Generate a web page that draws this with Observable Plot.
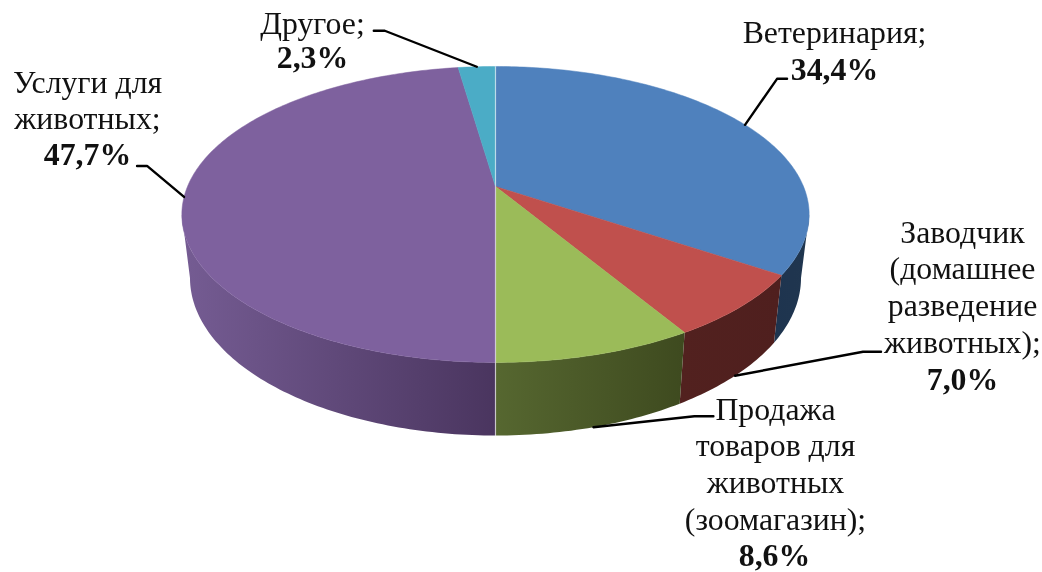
<!DOCTYPE html>
<html lang="ru">
<head>
<meta charset="utf-8">
<script src="https://cdn.jsdelivr.net/npm/d3@7"></script>
<script src="https://cdn.jsdelivr.net/npm/@observablehq/plot@0.6"></script>
<style>html,body{margin:0;padding:0;background:#fff}svg{display:block;filter:blur(0.35px)}</style>
</head>
<body>
<div id="chart"></div>
<script>
// --- Data ---
const categories = ["Ветеринария", "Заводчик", "Продажа", "Услуги", "Другое"];
const shares = [34.4, 7.0, 8.6, 47.7, 2.3];
const nameLines = [
  ["Ветеринария;"],
  ["Заводчик", "(домашнее", "разведение", "животных);"],
  ["Продажа", "товаров для", "животных", "(зоомагазин);"],
  ["Услуги для", "животных;"],
  ["Другое;"]
];
const shareLabels = ["34,4%", "7,0%", "8,6%", "47,7%", "2,3%"];

// --- Styles ---
const topColors = ["#4f81bd", "#c0504d", "#9bbb59", "#7e619e", "#4bacc6"];
// wall shading, left stop then right stop of each slice
const wallLeft  = ["#1e344f", "#52211f", "#566730", "#755c93", "#2a6575"];
const wallRight = ["#20364f", "#4f1f1e", "#3e4a1f", "#4a355f", "#2a6575"];

// --- Projection of the tilted disc (perspective) ---
const cx = 495, k = 0.189;
const topPlane = {a: 308, b: 142.7, y: 186};
const basePlane = {a: 300, b: 152, y: 247.6};
function project(plane, pct) {
  const t = pct / 100 * 2 * Math.PI, d = 1 + k * Math.cos(t);
  return [cx + plane.a * Math.sin(t) / d, plane.y - plane.b * Math.cos(t) / d];
}

// --- Slice extents ---
const ends = d3.cumsum(shares);
const starts = shares.map((s, i) => ends[i] - s);

// --- Side wall: only the front-facing part of each slice, between the silhouette tangents ---
const visibleFrom = 100 * (Math.PI - Math.acos(k)) / (2 * Math.PI);
const visibleTo = 100 - visibleFrom;
const walls = shares.map((s, i) => {
  const a = Math.max(starts[i], visibleFrom), b = Math.min(ends[i], visibleTo);
  if (b <= a) return [];
  const n = Math.max(2, Math.round((b - a) * 4));
  const pcts = d3.range(n + 1).map(j => a + (b - a) * j / n);
  return [...pcts.map(p => project(topPlane, p)), ...pcts.reverse().map(p => project(basePlane, p))]
    .map(([x, y]) => ({x, y}));
});

// --- Top surface ---
const surface = [];
shares.forEach((s, i) => {
  const n = Math.max(2, Math.round(s * 4));
  surface.push({id: i, x: cx, y: topPlane.y, col: topColors[i]});
  for (let j = 0; j <= n; ++j) {
    const [x, y] = project(topPlane, starts[i] + s * j / n);
    surface.push({id: i, x, y, col: topColors[i]});
  }
  surface.push({id: i, x: cx, y: topPlane.y, col: topColors[i]});
});

// --- Light seam along the 0% / 50% diameter ---
const half = ends[2];
const seam = [project(topPlane, 0), [cx, topPlane.y], project(topPlane, half), project(basePlane, half)]
  .map(([x, y]) => ({x, y}));

// --- Leader lines: start on the slice's mid angle, elbow toward the label ---
const leaderPlane = [topPlane, basePlane, basePlane, topPlane, topPlane];
const leaderElbow = [[32, -46], [128, -24], [101, -11], [-37, -31], [-92, -36]];
const leaderEnd   = [[10, 0], [18, 0], [19, 0], [-10, 0], [-11, 0]];
const leaders = [];
shares.forEach((s, i) => {
  const [x0, y0] = project(leaderPlane[i], starts[i] + s / 2);
  const x1 = x0 + leaderElbow[i][0], y1 = y0 + leaderElbow[i][1];
  leaders.push({id: i, x: x0, y: y0}, {id: i, x: x1, y: y1}, {id: i, x: x1 + leaderEnd[i][0], y: y1 + leaderEnd[i][1]});
});

// --- Labels ---
const labelX = [834, 962, 775, 87, 312];
const labelY = [42, 242, 419, 92, 33];
const lineGap = [37, 36.8, 36.7, 36, 34];
const names = [], values = [];
nameLines.forEach((ls, i) => {
  ls.forEach((t, j) => names.push({t, x: labelX[i], y: labelY[i] + j * lineGap[i]}));
  values.push({t: shareLabels[i], x: labelX[i] + (i === 2 ? -1 : 0), y: labelY[i] + ls.length * lineGap[i]});
});

const font = {fontFamily: "'Liberation Serif', serif", fontSize: 31.8, fill: "#111", textAnchor: "middle", lineAnchor: "bottom"};

// gradient definitions used by the wall polygons
const gradients = () => {
  const ns = "http://www.w3.org/2000/svg";
  const defs = document.createElementNS(ns, "defs");
  shares.forEach((_, i) => {
    const g = document.createElementNS(ns, "linearGradient");
    g.setAttribute("id", `wall${i}`);
    [[0, wallLeft[i]], [1, wallRight[i]]].forEach(([o, c]) => {
      const st = document.createElementNS(ns, "stop");
      st.setAttribute("offset", o);
      st.setAttribute("stop-color", c);
      g.append(st);
    });
    defs.append(g);
  });
  return defs;
};

const chart = Plot.plot({
  width: 1042, height: 572, margin: 0,
  style: {background: "#fff"},
  x: {domain: [0, 1042], axis: null},
  y: {domain: [572, 0], axis: null},
  color: {type: "identity"},
  marks: [
    gradients,
    ...walls.filter(w => w.length).map(w => {
      const i = walls.indexOf(w);
      return Plot.line(w, {x: "x", y: "y", fill: `url(#wall${i})`, stroke: "none"});
    }),
    Plot.line(surface, {x: "x", y: "y", z: "id", fill: d => d.col, stroke: d => d.col, strokeWidth: 0.5}),
    Plot.line(seam, {x: "x", y: "y", stroke: "#fff", strokeOpacity: 0.6, strokeWidth: 1.2}),
    Plot.line(leaders, {x: "x", y: "y", z: "id", stroke: "#000", strokeWidth: 2.4}),
    Plot.text(names, {x: "x", y: "y", text: "t", ...font}),
    Plot.text(values, {x: "x", y: "y", text: "t", ...font, fontWeight: "bold"})
  ]
});
document.getElementById("chart").append(chart);
</script>
</body>
</html>
